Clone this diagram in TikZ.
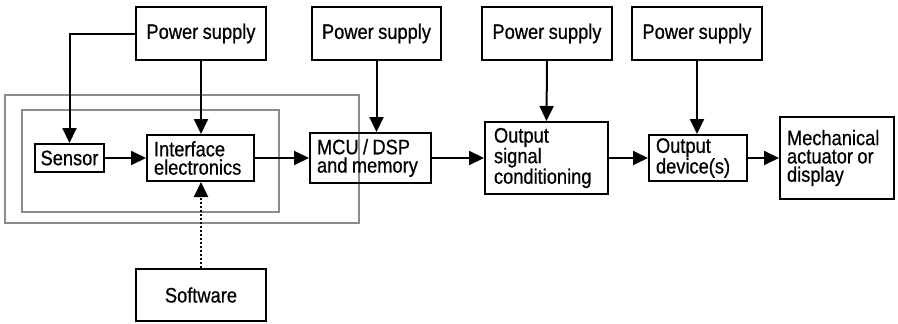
\documentclass[tikz,border=0pt]{standalone}
\usepackage{fontspec}
\setmainfont{Liberation Sans}[FakeStretch=0.87, FakeBold=0.6]
\usepackage{tikz}
\usetikzlibrary{arrows.meta, calc}

\begin{document}
\begin{tikzpicture}[x=1pt, y=-1pt,
  blk/.style={draw, line width=2pt, inner xsep=9pt, inner ysep=0pt, align=left,
    font=\fontsize{21}{18.3}\selectfont,
    execute at begin node={\spaceskip=0.21em\xspaceskip=0.21em\relax}},
  arr/.style={-{Triangle[length=15pt, width=14pt]}, line width=2pt},
  frame/.style={draw=black!45, line width=2pt}]
\useasboundingbox (0,0) rectangle (898,324);

% Sensor module frames
\draw[frame] (5,95) rectangle (359,223);
\draw[frame] (22,110) rectangle (279,212);

% Power supplies
\node[blk, minimum width=130, minimum height=53, align=center] (PS1) at (201, 33.5) {Power supply};
\node[blk, minimum width=129, minimum height=53, align=center] (PS2) at (376.5, 33.5) {Power supply};
\node[blk, minimum width=130, minimum height=53, align=center] (PS3) at (547, 33.5) {Power supply};
\node[blk, minimum width=130, minimum height=53, align=center] (PS4) at (697, 33.5) {Power supply};

% Signal chain
\node[blk, minimum width=69, minimum height=28, inner xsep=2pt, align=center] (Sen) at (69.5, 158) {Sensor};
\node[blk, text width=93, minimum height=46, inner xsep=7pt] (Intf) at (200.5, 158) {Interface\\electronics};
\node[blk, text width=107, minimum height=50, inner xsep=7pt] (MCU) at (370.5, 158) {MCU / DSP\\and memory};
\node[blk, text width=105, minimum height=72] (OSC) at (546.5, 158) {Output\\signal\\conditioning};
\node[blk, text width=84, minimum height=46, inner xsep=7pt] (Dev) at (698, 158) {Output\\device(s)};
\node[blk, text width=100, minimum height=82, inner xsep=7pt] (Mech) at (837, 158) {Mechanical\\actuator or\\display};
\node[blk, minimum width=130, minimum height=52, align=center] (SW) at (201, 295) {Software};

\draw[arr] (PS1.west) -| (Sen.north);
\draw[arr] (PS1.south) -- (PS1.south |- Intf.north);
\draw[arr] (PS2.south) -- (PS2.south |- MCU.north);
\draw[arr] (PS3.south) -- (OSC.north);
\draw[arr] (PS4.south) -- (PS4.south |- Dev.north);

\draw[arr] (Sen) -- (Intf);
\draw[arr] (Intf) -- (MCU);
\draw[arr] (MCU) -- (OSC);
\draw[arr] (OSC) -- (Dev);
\draw[arr] (Dev) -- (Mech);
\draw[arr, dotted] (SW.north) -- (SW.north |- Intf.south);
\end{tikzpicture}
\end{document}
